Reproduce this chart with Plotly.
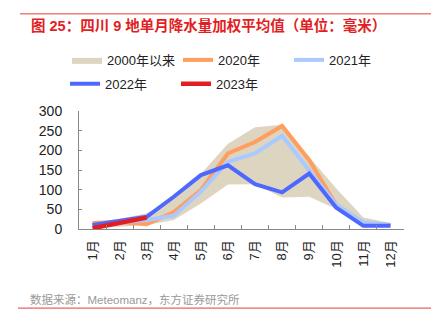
import plotly.graph_objects as go

months = ["1月", "2月", "3月", "4月", "5月", "6月", "7月", "8月", "9月", "10月", "11月", "12月"]
band_upper = [17, 26, 40, 78, 140, 217, 259, 265, 183, 103, 29, 15]
band_lower = [3, 6, 10, 23, 65, 113, 114, 80, 82, 51, 10, 5]
y2020 = [15, 18, 12, 43, 99, 192, 221, 262, 175, 61, 15, 10]
y2021 = [10, 17, 23, 34, 95, 171, 192, 237, 150, 61, 17, 10]
y2022 = [10, 20, 31, 82, 137, 162, 114, 93, 141, 54, 8, 8]
y2023 = [2, 15, 29]

W, H = 437, 323
L, R, T, B = 79, 404, 110.7, 229.0


def px(x):
    return (x - L) / (R - L)


def py(y):
    return (B - y) / (B - T)


FONT = "Liberation Sans, Arial, Noto Sans CJK SC, sans-serif"

fig = go.Figure()
fig.add_trace(go.Scatter(
    x=months + months[::-1], y=band_upper + band_lower[::-1],
    fill="toself", fillcolor="rgb(222,213,192)", mode="lines",
    line=dict(width=0, color="rgb(222,213,192)"), name="2000年以来",
    legend="legend", hoverinfo="skip"))
fig.add_trace(go.Scatter(x=months, y=y2020, mode="lines", name="2020年",
                         line=dict(color="rgb(255,158,94)", width=4), legend="legend"))
fig.add_trace(go.Scatter(x=months, y=y2021, mode="lines", name="2021年",
                         line=dict(color="rgb(170,202,255)", width=4), legend="legend"))
fig.add_trace(go.Scatter(x=months, y=y2022, mode="lines", name="2022年",
                         line=dict(color="rgb(78,104,255)", width=4), legend="legend2"))
fig.add_trace(go.Scatter(x=months[:len(y2023)], y=y2023, mode="lines", name="2023年",
                         line=dict(color="rgb(228,30,32)", width=4.5), legend="legend2"))

legend_common = dict(orientation="h", xanchor="left", yanchor="middle",
                     font=dict(family=FONT, size=13, color="#222"),
                     entrywidth=66, entrywidthmode="pixels",
                     bgcolor="rgba(0,0,0,0)", itemwidth=30, tracegroupgap=0)

fig.update_layout(
    width=W, height=H,
    margin=dict(l=L, r=W - R, t=T, b=H - B),
    paper_bgcolor="white", plot_bgcolor="white",
    showlegend=True,
    legend=dict(x=px(67), y=py(59.5), **legend_common),
    legend2=dict(x=px(65), y=py(83.5), **legend_common),
    xaxis=dict(type="category", categoryorder="array", categoryarray=months,
               range=[-0.5, len(months) - 0.5],
               showline=True, linecolor="#888", linewidth=1,
               ticks="inside", tickson="boundaries", ticklen=4, tickcolor="#888",
               tickangle=-90, tickfont=dict(family=FONT, size=13, color="#222"),
               ticklabelstandoff=5,
               showgrid=False, zeroline=False),
    yaxis=dict(range=[0, 300], dtick=50, showline=True, linecolor="#888", linewidth=1,
               ticks="inside", ticklen=3, tickcolor="#888",
               tickfont=dict(family=FONT, size=14, color="#222"),
               showgrid=False, zeroline=False, ticklabelstandoff=13),
    shapes=[
        dict(type="line", xref="paper", yref="paper", x0=px(20), x1=px(431),
             y0=py(13.3), y1=py(13.3), line=dict(color="rgb(230,60,60)", width=1)),
        dict(type="line", xref="paper", yref="paper", x0=px(18), x1=px(431),
             y0=py(308.3), y1=py(308.3), line=dict(color="rgb(230,60,60)", width=1)),
    ],
    annotations=[
        dict(text="<b>图 25：四川 9 地单月降水量加权平均值（单位：毫米）</b>", xref="paper", yref="paper",
             x=px(29), y=py(24.5), xanchor="left", yanchor="middle", showarrow=False,
             font=dict(family=FONT, size=14.5, color="rgb(225,30,35)")),
        dict(text="数据来源：Meteomanz，东方证券研究所", xref="paper", yref="paper",
             x=px(28), y=py(299.3), xanchor="left", yanchor="middle", showarrow=False,
             font=dict(family=FONT, size=11.5, color="#999")),
    ],
)

fig.write_html("out.html")
